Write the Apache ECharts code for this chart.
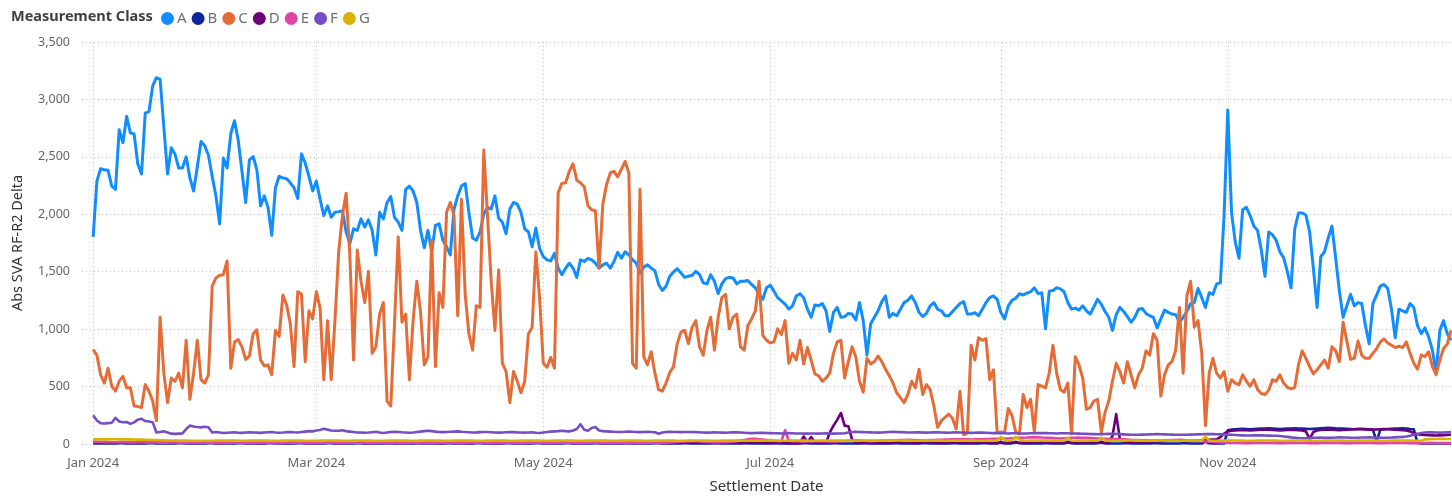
<!DOCTYPE html>
<html><head><meta charset="utf-8">
<script src="https://cdn.jsdelivr.net/npm/echarts@6/dist/echarts.min.js"></script>
<style>html,body{margin:0;padding:0;background:#fff;overflow:hidden}#chart{width:1452px;height:499px}</style>
</head><body><div id="chart"></div>
<script>
// ---------- data (daily values, 2024-01-01 .. 2024-12-31) ----------
const seriesNames = ['A','B','C','D','E','F','G'];
const seriesColors = ['#118DFF','#12239E','#E66C37','#6B007B','#E044A7','#744EC2','#D9B300'];
const yTicks = [0,500,1000,1500,2000,2500,3000,3500];
const xTickLabels = {'2024-01-01':'Jan 2024','2024-03-01':'Mar 2024','2024-05-01':'May 2024','2024-07-01':'Jul 2024','2024-09-01':'Sep 2024','2024-11-01':'Nov 2024'};

const A_values = [
1803,2289,2397,2388,2383,2245,2217,2737,2623,2852,2709,2700,2437,2351,2880,2894,3117,3189,3174,2760,2351,2580,2523,2403,2403,2500,2317,2203,2414,2634,2597,2511,2329,2160,1917,2489,2403,2703,2814,2643,2374,2103,2474,2503,2389,2074,
2160,2060,1817,2231,2331,2317,2309,2274,2231,2137,2526,2446,2331,2203,2289,2131,1989,2074,1974,2017,2023,2031,1846,1746,1874,1860,1960,1889,1951,1860,1646,2017,1960,2103,2154,1974,1931,1860,2217,2245,2203,2103,1860,1709,1860,
1674,1903,1917,1774,1717,1646,2046,2160,2246,2268,2017,1794,1774,1846,2003,2060,2046,2160,1966,1931,1831,2046,2103,2089,2017,1874,1846,1717,1880,1703,1631,1603,1594,1660,1531,1474,1531,1574,1531,1451,1603,1589,1617,1603,1574,1531,
1560,1574,1531,1589,1669,1617,1674,1646,1603,1574,1489,1540,1560,1531,1509,1389,1337,1374,1460,1497,1526,1489,1451,1460,1469,1503,1474,1403,1394,1474,1417,1309,1394,1440,1451,1446,1394,1417,1417,1423,1389,1360,1303,1260,1360,1383,
1331,1274,1246,1217,1174,1203,1289,1309,1274,1174,1103,1211,1203,1223,1160,980,1146,1189,1103,1109,1137,1131,1080,1231,1074,774,1046,1103,1160,1240,1289,1103,1137,1117,1174,1231,1251,1289,1231,1146,1109,1137,1203,1231,1174,1160,
1117,1117,1154,1189,1223,1240,1131,1131,1143,1117,1174,1231,1274,1289,1260,1146,1089,1203,1251,1269,1309,1297,1314,1326,1360,1309,1317,1003,1331,1337,1360,1351,1326,1231,1174,1183,1166,1203,1160,1131,1194,1260,1217,1154,1103,
989,1126,1189,1154,1109,1060,1103,1174,1180,1137,1117,1103,1011,1089,1166,1146,1131,1126,1060,1103,1154,1223,1231,1354,1274,1189,1317,1303,1394,1403,1989,2909,2017,1760,1617,2040,2060,1989,1897,1860,1689,1460,1846,
1823,1774,1674,1623,1503,1360,1874,2011,2011,1994,1846,1531,1189,1631,1674,1794,1897,1617,1331,1103,1203,1303,1203,1231,1223,1031,874,1223,1297,1374,1389,1354,1174,926,1174,1160,1146,1223,1189,1031,960,1011,931,817,617,989,1074,960,903
];

const C_values = [
823,774,603,531,660,503,460,546,589,489,489,331,326,317,517,460,374,203,1103,617,360,574,546,617,489,903,389,617,903,560,531,603,1374,1446,1469,1474,1594,660,889,909,846,737,766,960,994,731,
680,689,603,989,937,1297,1211,1046,674,1326,1303,717,1160,1089,1326,1183,560,1074,560,1074,1674,1989,2183,1646,731,1689,1417,1231,1503,789,846,1131,1231,374,331,1046,1803,1060,1131,560,1074,1417,1150,689,760,
1774,674,1317,1189,2017,2103,1989,1117,2131,1303,960,817,1203,1189,2560,1989,1417,989,1517,703,631,360,631,546,446,546,960,1017,1674,1274,703,669,754,660,2188,2269,2274,2374,2440,2297,2274,2240,2074,2040,2031,1531,
2088,2260,2360,2374,2326,2394,2460,2360,700,660,2217,760,689,803,617,474,460,531,623,674,874,974,989,874,1017,1074,846,774,989,1103,817,1103,1274,1303,1003,1103,1131,846,817,1031,1089,1160,1417,946,903,880,
889,1003,954,1074,703,789,731,903,697,840,731,611,594,546,574,617,789,889,903,574,717,846,760,546,451,746,697,717,766,717,651,594,531,446,403,360,431,546,489,651,431,517,474,331,146,203,
231,260,223,131,460,80,97,860,731,926,903,917,560,646,103,103,103,309,246,103,89,431,317,389,103,517,503,489,617,860,617,474,451,531,89,760,689,574,303,317,374,389,103,274,374,
546,703,631,531,717,603,489,603,660,811,774,960,903,417,603,689,717,817,1189,617,1289,1417,1017,1074,789,160,617,746,617,574,631,460,560,531,517,603,546,503,560,474,440,431,469,
560,546,603,531,494,480,494,689,811,746,674,611,646,689,731,660,846,811,717,1060,897,737,746,897,774,746,746,789,831,889,914,880,860,840,851,840,889,789,703,651,774,760,803,674,603,731,831,869,989
];

const B_values = [].concat(
[5,5,4,4,4,5,5,6,6,5,4,4,4,5,5,6,6,5,4,4,4,5,5,6,6,5,4,4,4,5,5],
[6,6,5,4,4,4,5,5,6,6,5,4,4,4,5,5,6,6,5,4,4,4,5,5,6,6,5,4,4],
[4,5,5,6,6,5,4,4,4,5,5,6,6,5,4,4,4,5,5,6,6,5,4,4,4,5,5,6,6,5,4],
[4,4,5,5,6,6,5,4,4,4,5,5,6,6,5,4,4,4,5,5,6,6,5,4,4,4,5,5,6,6],
[5,4,4,4,5,5,6,6,5,4,4,4,5,5,6,6,5,4,4,4,5,5,6,6,5,4,4,4,5,5,6],
[6,5,4,4,4,5,5,6,6,5,4,4,4,5,5,6,6,5,4,4,4,5,5,6,6,5,4,4,4,5],
[5,6,6,5,4,4,4,5,5,6,6,5,4,4,4,5,5,6,6,5,4,4,4,5,5,6,6,5,4,4,4],
[5,5,6,6,5,4,4,4,5,5,6,6,5,4,4,4,5,5,6,6,5,4,4,4,5,5,6,6,5,4,4],
[20,4,5,5,20,6,5,4,4,4,5,5,6,6,5,4,4,4,20,6,5,4,4,4,5,5,6,20,5,4],
[4,5,5,6,6,5,4,4,4,5,5,6,6,5,4,4,4,5,5,6,6,5,4,4,4,20,6,5,4,4,4],
[120,125,128,130,132,130,128,130,132,134,135,136,134,132,130,132,134,135,136,135,134,132,130,132,134,136,138,140,138,136],
[135,134,132,130,128,130,132,130,128,126,20,125,128,130,132,134,135,136,134,130,128,10,5,5,5,5,5,5,5,5,5]
);

const D_values = [].concat(
[20,18,16,15,15,14,14,15,16,15,14,13,14,15,14,13,12,12,12,11,11,12,12,13,12,11,10,10,11,12,12],
[12,11,10,10,10,11,12,20,25,22,15,12,11,10,10,10,11,12,12,11,10,10,10,11,12,12,11,10,10],
[10,11,12,12,11,10,10,10,11,12,12,11,10,10,10,11,12,12,11,10,10,10,11,12,12,11,10,10,10,11,12],
[12,11,10,10,10,11,12,12,11,10,10,10,11,12,12,11,10,10,10,11,12,20,24,14,11,10,10,11,12,12],
[11,10,10,10,11,12,12,11,10,10,10,11,12,12,11,10,10,10,11,12,12,11,10,10,12,14,16,18,18,16,14],
[12,10,10,10,11,12,12,11,10,10,10,11,12,12,11,10,10,10,11,12,12,11,10,10,10,11,12,12,11,10],
[10,10,10,10,10,8,8,8,10,65,15,60,15,10,10,10,100,160,210,270,160,155,40,10,10,10,10,10,10,10,10],
[10,10,10,11,12,12,11,10,10,10,11,12,12,11,10,10,10,11,12,12,11,10,10,10,11,12,12,11,10,10,10],
[10,10,11,12,12,11,10,10,10,11,12,12,11,10,10,10,11,12,12,11,10,10,10,11,12,12,11,10,10,10],
[70,260,40,20,18,16,15,15,16,18,20,22,24,25,26,28,30,30,28,26,25,26,28,30,32,34,36,38,40,60,90],
[110,115,118,120,122,120,118,120,122,124,125,124,122,120,118,120,122,124,122,120,118,110,45,105,118,122,124,125,124,122],
[120,122,124,126,128,130,128,126,124,125,126,128,130,128,126,124,122,120,118,110,95,85,80,78,76,75,74,75,76,78,80]
);

const E_values = [].concat(
[18,18,17,16,16,15,15,16,16,15,14,14,15,15,14,14,13,13,12,12,12,13,13,12,12,11,11,12,12,12,11],
[11,11,10,10,10,11,11,12,12,11,10,10,10,11,11,12,12,11,10,10,10,11,11,12,12,11,10,10,10],
[10,11,11,12,12,11,10,10,10,11,11,12,12,11,10,10,10,11,11,12,12,11,10,10,10,11,11,12,12,11,10],
[10,10,11,11,12,12,11,10,10,10,11,11,12,12,11,10,10,10,11,11,12,12,11,10,10,10,11,11,12,12],
[11,10,10,10,11,11,12,12,11,10,10,10,11,11,12,12,11,10,10,10,11,11,12,12,11,10,10,10,11,11,12],
[12,11,12,14,16,18,20,22,24,25,24,22,20,18,16,15,14,15,16,18,20,25,30,35,40,45,45,42,38,35],
[30,28,26,25,120,30,25,24,22,20,22,24,25,26,25,24,22,20,22,24,26,28,30,32,30,28,26,25,26,28,30],
[30,31,32,33,34,35,36,35,34,33,32,33,34,35,36,37,38,39,40,41,42,41,40,39,40,41,42,43,44,45,46],
[46,47,48,50,52,54,55,56,58,60,58,56,55,54,52,50,48,50,52,54,55,56,55,54,52,50,48,46,45,44],
[44,43,42,40,38,36,35,34,33,32,31,30,30,31,32,33,34,35,36,34,32,30,28,26,24,22,20,18,16,14,12],
[10,10,9,9,8,8,8,9,9,10,10,9,9,8,8,8,9,9,10,10,9,9,8,8,8,9,9,10,10,9],
[9,8,8,8,9,9,10,10,9,9,8,8,8,9,9,10,10,9,9,8,8,8,9,9,10,10,9,9,8,8,8]
);

const F_values = [].concat(
[250,205,180,178,182,185,228,196,190,192,175,188,212,220,200,196,190,100,105,110,100,90,88,90,92,130,160,152,148,145,150],
[146,100,104,100,96,98,100,102,98,97,100,103,100,99,97,100,102,104,100,98,100,103,105,102,100,104,108,112,110],
[118,122,132,125,118,115,116,120,112,108,104,100,100,98,100,103,106,100,96,100,104,106,105,102,100,98,100,104,108,112,116],
[112,108,105,103,104,106,108,110,106,104,102,100,101,103,105,104,102,100,99,100,102,104,103,101,100,99,100,102,98,96],
[100,104,108,110,112,115,112,110,118,130,172,125,115,140,148,118,112,110,108,106,105,104,106,108,106,104,103,105,106,104,102],
[90,100,104,106,105,104,103,104,105,104,103,102,100,99,100,101,100,99,98,100,101,102,100,98,96,95,96,97,98,96],
[95,94,93,92,92,93,94,92,91,90,90,91,92,90,92,94,92,90,91,92,94,100,104,106,104,103,102,101,100,99,100],
[102,104,106,104,103,102,100,100,101,102,100,99,100,101,102,100,99,98,100,101,100,99,98,97,98,100,99,98,96,95,96],
[94,93,92,93,94,92,91,92,93,94,95,96,95,94,93,92,93,94,93,92,91,90,89,88,87,86,85,86,87,88],
[88,87,86,84,82,80,80,81,82,83,84,85,86,85,84,83,82,81,80,80,81,82,83,84,85,86,87,86,85,84,83],
[82,80,78,76,75,74,74,75,76,75,74,73,72,72,70,66,62,58,55,52,50,50,52,54,55,56,55,54,55,56],
[58,57,56,55,54,55,56,57,58,57,56,55,54,55,56,58,60,62,66,72,80,88,96,100,102,101,100,99,100,101,102]
);

const G_values = [].concat(
[42,42,41,40,40,41,42,42,41,40,40,39,38,38,37,36,35,34,33,32,31,30,30,30,29,29,28,28,28,28,28],
[28,28,29,29,30,30,29,29,28,28,28,29,29,30,30,29,29,28,28,28,29,29,30,30,29,29,28,28,28],
[28,29,29,30,30,29,29,28,28,28,29,29,30,30,29,29,28,28,28,29,29,30,30,29,29,28,28,28,29,29,30],
[30,29,29,28,28,28,29,29,30,30,29,29,28,28,28,29,29,30,30,29,29,28,28,28,29,29,30,30,29,29],
[28,28,28,29,29,30,30,29,29,28,28,28,29,29,30,30,29,29,28,28,28,29,29,30,30,29,29,28,28,28,29],
[29,30,30,29,29,28,28,28,29,29,30,30,29,29,28,28,28,29,29,30,30,29,29,28,28,28,29,29,30,30],
[29,29,28,28,28,29,29,30,30,29,29,28,28,28,29,29,30,30,29,29,28,28,28,29,29,30,30,29,29,28,28],
[28,29,29,30,30,29,29,28,28,28,29,29,30,30,29,29,28,28,28,29,29,30,30,29,29,28,28,28,29,29,30],
[60,35,30,35,60,40,30,28,28,29,29,30,30,29,29,28,28,28,55,30,28,28,29,29,30,30,29,55,30,28],
[28,28,29,29,30,30,29,29,28,28,28,29,29,30,30,29,29,28,28,28,29,29,30,30,29,65,30,28,28,29,29],
[29,30,30,29,29,28,28,28,29,29,30,30,29,29,28,28,28,29,29,30,30,29,29,28,28,28,29,29,30,30],
[29,29,28,28,28,29,29,30,30,29,29,28,28,28,29,29,30,30,29,29,28,28,28,40,42,44,44,45,45,44,44]
);

const seriesValues = [A_values,B_values,C_values,D_values,E_values,F_values,G_values];

// ---------- axis categories: every day of 2024, with 3 blank lead-in days ----------
const leadDays = 3;
const dayCount = 366;
const categories = [];
for (let i = -leadDays; i < dayCount; i++) {
  categories.push(new Date(Date.UTC(2024, 0, 1 + i)).toISOString().slice(0, 10));
}
const lead = new Array(leadDays).fill(null);

const FONT = "'Segoe UI','Noto Sans','Open Sans',sans-serif";
const chart = echarts.init(document.getElementById('chart'), null, {renderer: 'canvas'});
const showTick = (idx, val) => xTickLabels.hasOwnProperty(val);
const gridDots = {type: [1, 3], color: '#c4c4c4', width: 1};

chart.setOption({
  animation: false,
  backgroundColor: '#ffffff',
  title: {
    text: 'Measurement Class', left: 6, top: 4,
    textStyle: {fontFamily: FONT, fontSize: 14.5, fontWeight: 'bold', color: '#404040'}
  },
  legend: {
    data: seriesNames, left: 156, top: 6, icon: 'circle',
    itemWidth: 13, itemHeight: 13, itemGap: 5,
    textStyle: {fontFamily: FONT, fontSize: 15, color: '#707070', padding: [0,0,0,-2]}
  },
  grid: {left: 82, right: 1, top: 42, bottom: 47, containLabel: false},
  xAxis: {
    type: 'category', data: categories, boundaryGap: false,
    name: 'Settlement Date', nameLocation: 'middle', nameGap: 35,
    nameTextStyle: {fontFamily: FONT, fontSize: 15, color: '#333333'},
    axisLine: {show: false}, axisTick: {show: false},
    axisLabel: {interval: showTick, formatter: v => xTickLabels[v] || '', fontFamily: FONT, fontSize: 13, color: '#666666', margin: 13},
    splitLine: {show: true, interval: showTick, lineStyle: gridDots}
  },
  yAxis: {
    type: 'value', min: yTicks[0], max: yTicks[yTicks.length-1], interval: 500,
    name: 'Abs SVA RF-R2 Delta', nameLocation: 'middle', nameGap: 57,
    nameTextStyle: {fontFamily: FONT, fontSize: 14.5, color: '#333333'},
    axisLine: {show: false}, axisTick: {show: false},
    axisLabel: {formatter: v => v.toLocaleString('en-US'), fontFamily: FONT, fontSize: 12.5, color: '#666666', margin: 12},
    splitLine: {show: true, lineStyle: gridDots}
  },
  series: seriesNames.map((name, i) => ({
    name: name, type: 'line', showSymbol: false, symbol: 'circle',
    data: lead.concat(seriesValues[i]),
    color: seriesColors[i],
    lineStyle: {width: (name === 'A' || name === 'C') ? 3 : 2.6, color: seriesColors[i], join: 'round'},
    z: 2 + i
  }))
});
</script>
</body></html>
